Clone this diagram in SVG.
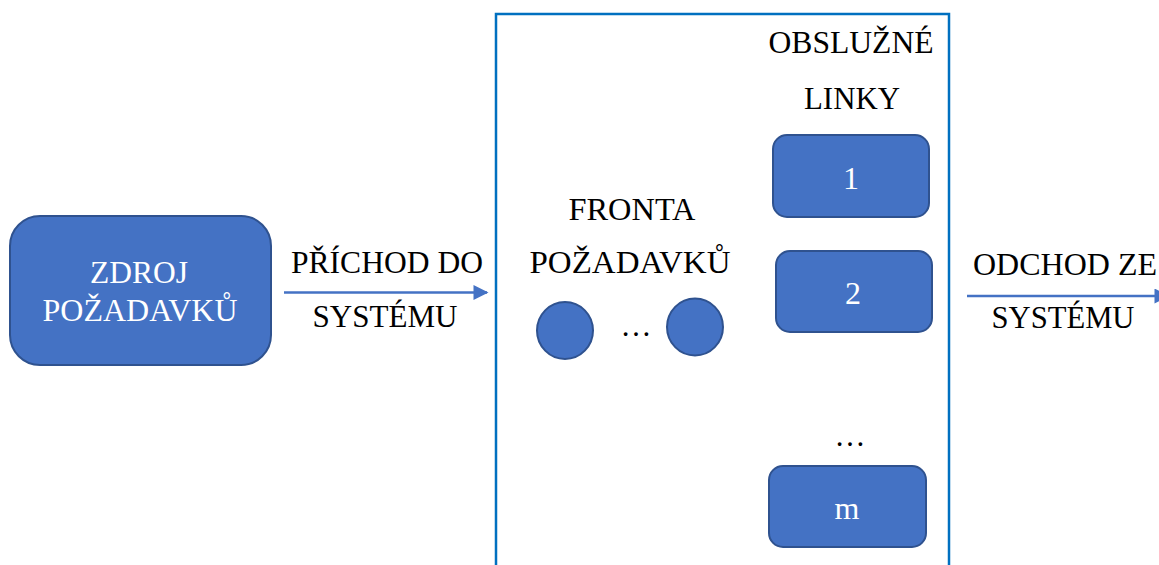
<svg xmlns="http://www.w3.org/2000/svg" width="1159" height="565" viewBox="0 0 1159 565">
  <defs>
    <style>
      .shape { fill: #4472C4; stroke: #2F528F; stroke-width: 2; }
      .lbl { font-size: 31px; fill: #000; text-anchor: middle; }
      .num { font-size: 32px; }
      .in { fill: #fff; }
      .conn { stroke: #4472C4; stroke-width: 2.5; fill: none; }
    </style>
    <marker id="arrow" viewBox="0 0 10 10" refX="9" refY="5" markerWidth="6.6" markerHeight="6" orient="auto" markerUnits="strokeWidth">
      <path d="M0,0 L10,5 L0,10 Z" fill="#4472C4"/>
    </marker>
  </defs>

  <rect width="1159" height="565" fill="#fff"/>

  <g font-family="'Liberation Serif', 'Times New Roman', 'DejaVu Serif', serif">
  <!-- system boundary -->
  <g id="system">
    <rect x="496" y="14" width="453" height="570" fill="none" stroke="#0070C0" stroke-width="2.5"/>
  </g>

  <g id="source">
    <rect class="shape" x="10" y="216" width="261" height="149" rx="30" ry="30"/>
    <text class="lbl in" x="139" y="283" textLength="98" lengthAdjust="spacingAndGlyphs">ZDROJ</text>
    <text class="lbl in" x="140" y="321" textLength="195" lengthAdjust="spacingAndGlyphs">POŽADAVKŮ</text>
  </g>

  <g id="queue">
    <text class="lbl" x="632" y="220" textLength="127" lengthAdjust="spacingAndGlyphs">FRONTA</text>
    <text class="lbl" x="630" y="273" textLength="201" lengthAdjust="spacingAndGlyphs">POŽADAVKŮ</text>
    <ellipse class="shape" cx="565" cy="330.5" rx="28" ry="28.5"/>
    <text class="lbl" x="636" y="336">…</text>
    <ellipse class="shape" cx="695" cy="327" rx="28" ry="28.5"/>
  </g>

  <g id="servers">
    <text class="lbl" x="851" y="53" textLength="165" lengthAdjust="spacingAndGlyphs">OBSLUŽNÉ</text>
    <text class="lbl" x="852" y="109" textLength="96" lengthAdjust="spacingAndGlyphs">LINKY</text>
  </g>

  <g id="server-1">
    <rect class="shape" x="773" y="135" width="156" height="82" rx="14" ry="14"/>
    <text class="lbl num in" x="851" y="189">1</text>
  </g>

  <g id="server-2">
    <rect class="shape" x="776" y="251" width="156" height="81" rx="14" ry="14"/>
    <text class="lbl num in" x="853" y="304">2</text>
  </g>

  <g id="servers-more">
    <text class="lbl" x="850" y="446">…</text>
  </g>

  <g id="server-m">
    <rect class="shape" x="769" y="466" width="157" height="81" rx="14" ry="14"/>
    <text class="lbl num in" x="847" y="519">m</text>
  </g>

  <g id="connectors">
    <line class="conn" x1="284" y1="292.5" x2="487" y2="292.5" marker-end="url(#arrow)"/>
    <text class="lbl" x="387" y="273" textLength="192" lengthAdjust="spacingAndGlyphs">PŘÍCHOD DO</text>
    <text class="lbl" x="385" y="327" textLength="145" lengthAdjust="spacingAndGlyphs">SYSTÉMU</text>

    <line class="conn" x1="967" y1="296" x2="1168" y2="296" marker-end="url(#arrow)"/>
    <text class="lbl" x="1065" y="275" textLength="184" lengthAdjust="spacingAndGlyphs">ODCHOD ZE</text>
    <text class="lbl" x="1063" y="328" textLength="143" lengthAdjust="spacingAndGlyphs">SYSTÉMU</text>
  </g>
  </g>
</svg>
